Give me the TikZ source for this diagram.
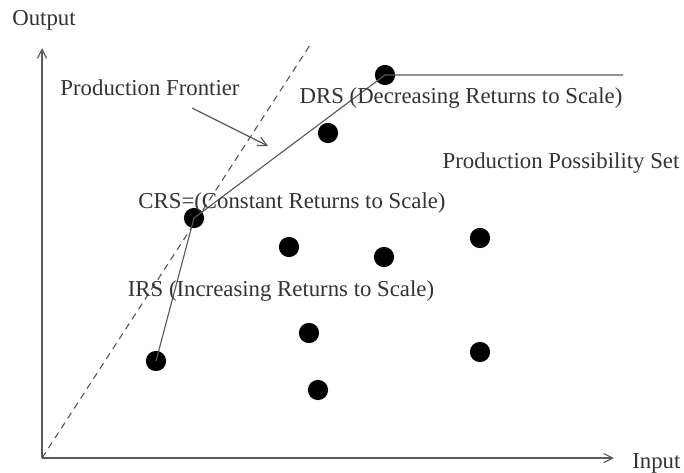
\documentclass[tikz,border=0pt]{standalone}
\usepackage{fontspec}
\setmainfont{Liberation Serif}
\usetikzlibrary{positioning,calc,arrows.meta}

\begin{document}
\begin{tikzpicture}[x=0.025cm,y=-0.025cm,line join=round]
  \tikzset{
    dmu/.style={circle,fill=black,inner sep=0pt,minimum width=13.6pt,minimum height=14.4pt},
    lbl/.style={font=\fontsize{16.2}{18}\selectfont,text=black!80,inner sep=0pt},
    axis/.style={draw=black!65,thick,-{Straight Barb[length=6.4pt,width=6.4pt]}},
    front/.style={draw=black!65,thick}
  }
  \useasboundingbox (0,0) rectangle (684,473);

  % axes
  \coordinate (orig) at (42,458);
  \coordinate (ytop) at (42,48);
  \coordinate (xend) at (614,458);
  \draw[axis] (orig) -- (ytop);
  \draw[axis] (orig) -- (xend);
  \node[lbl] (out) at (44,20) {Output};
  \node[lbl,anchor=west] (in) at (632,463) {Input};

  % CRS ray
  \coordinate (ray) at (310,45);
  \draw[front,dash pattern=on 4.8pt off 3.6pt] (orig) -- (ray);

  % the units
  \node[dmu] (irs) at (156,361) {};
  \node[dmu] (crs) at (194,218) {};
  \node[dmu] (d1) at (328,133) {};
  \node[dmu] (drs) at (385,75) {};
  \node[dmu] (d2) at (289,247) {};
  \node[dmu] (d3) at (384,257) {};
  \node[dmu] (d4) at (480,238) {};
  \node[dmu] (d5) at (309,333) {};
  \node[dmu] (d6) at (480,352) {};
  \node[dmu] (d7) at (318,390) {};

  % frontier
  \coordinate (flat) at (623,75);
  \draw[front] (irs.center) -- (crs.center) -- (drs.center) -- (flat);

  % labels
  \node[lbl] (pf) at (150,88) {Production Frontier};
  \coordinate (pfstart) at (192,108);
  \coordinate (pfend) at (268,146);
  \draw[front,-{Straight Barb[length=6.4pt,width=6.4pt]}] (pfstart) -- (pfend);
  \node[lbl] (tdrs) at (461,98) {DRS (Decreasing Returns to Scale)};
  \node[lbl] (tpps) at (561,163) {Production Possibility Set};
  \node[lbl] (tcrs) at (292,203) {CRS=(Constant Returns to Scale)};
  \node[lbl] (tirs) at (281,291) {IRS (Increasing Returns to Scale)};
\end{tikzpicture}
\end{document}
